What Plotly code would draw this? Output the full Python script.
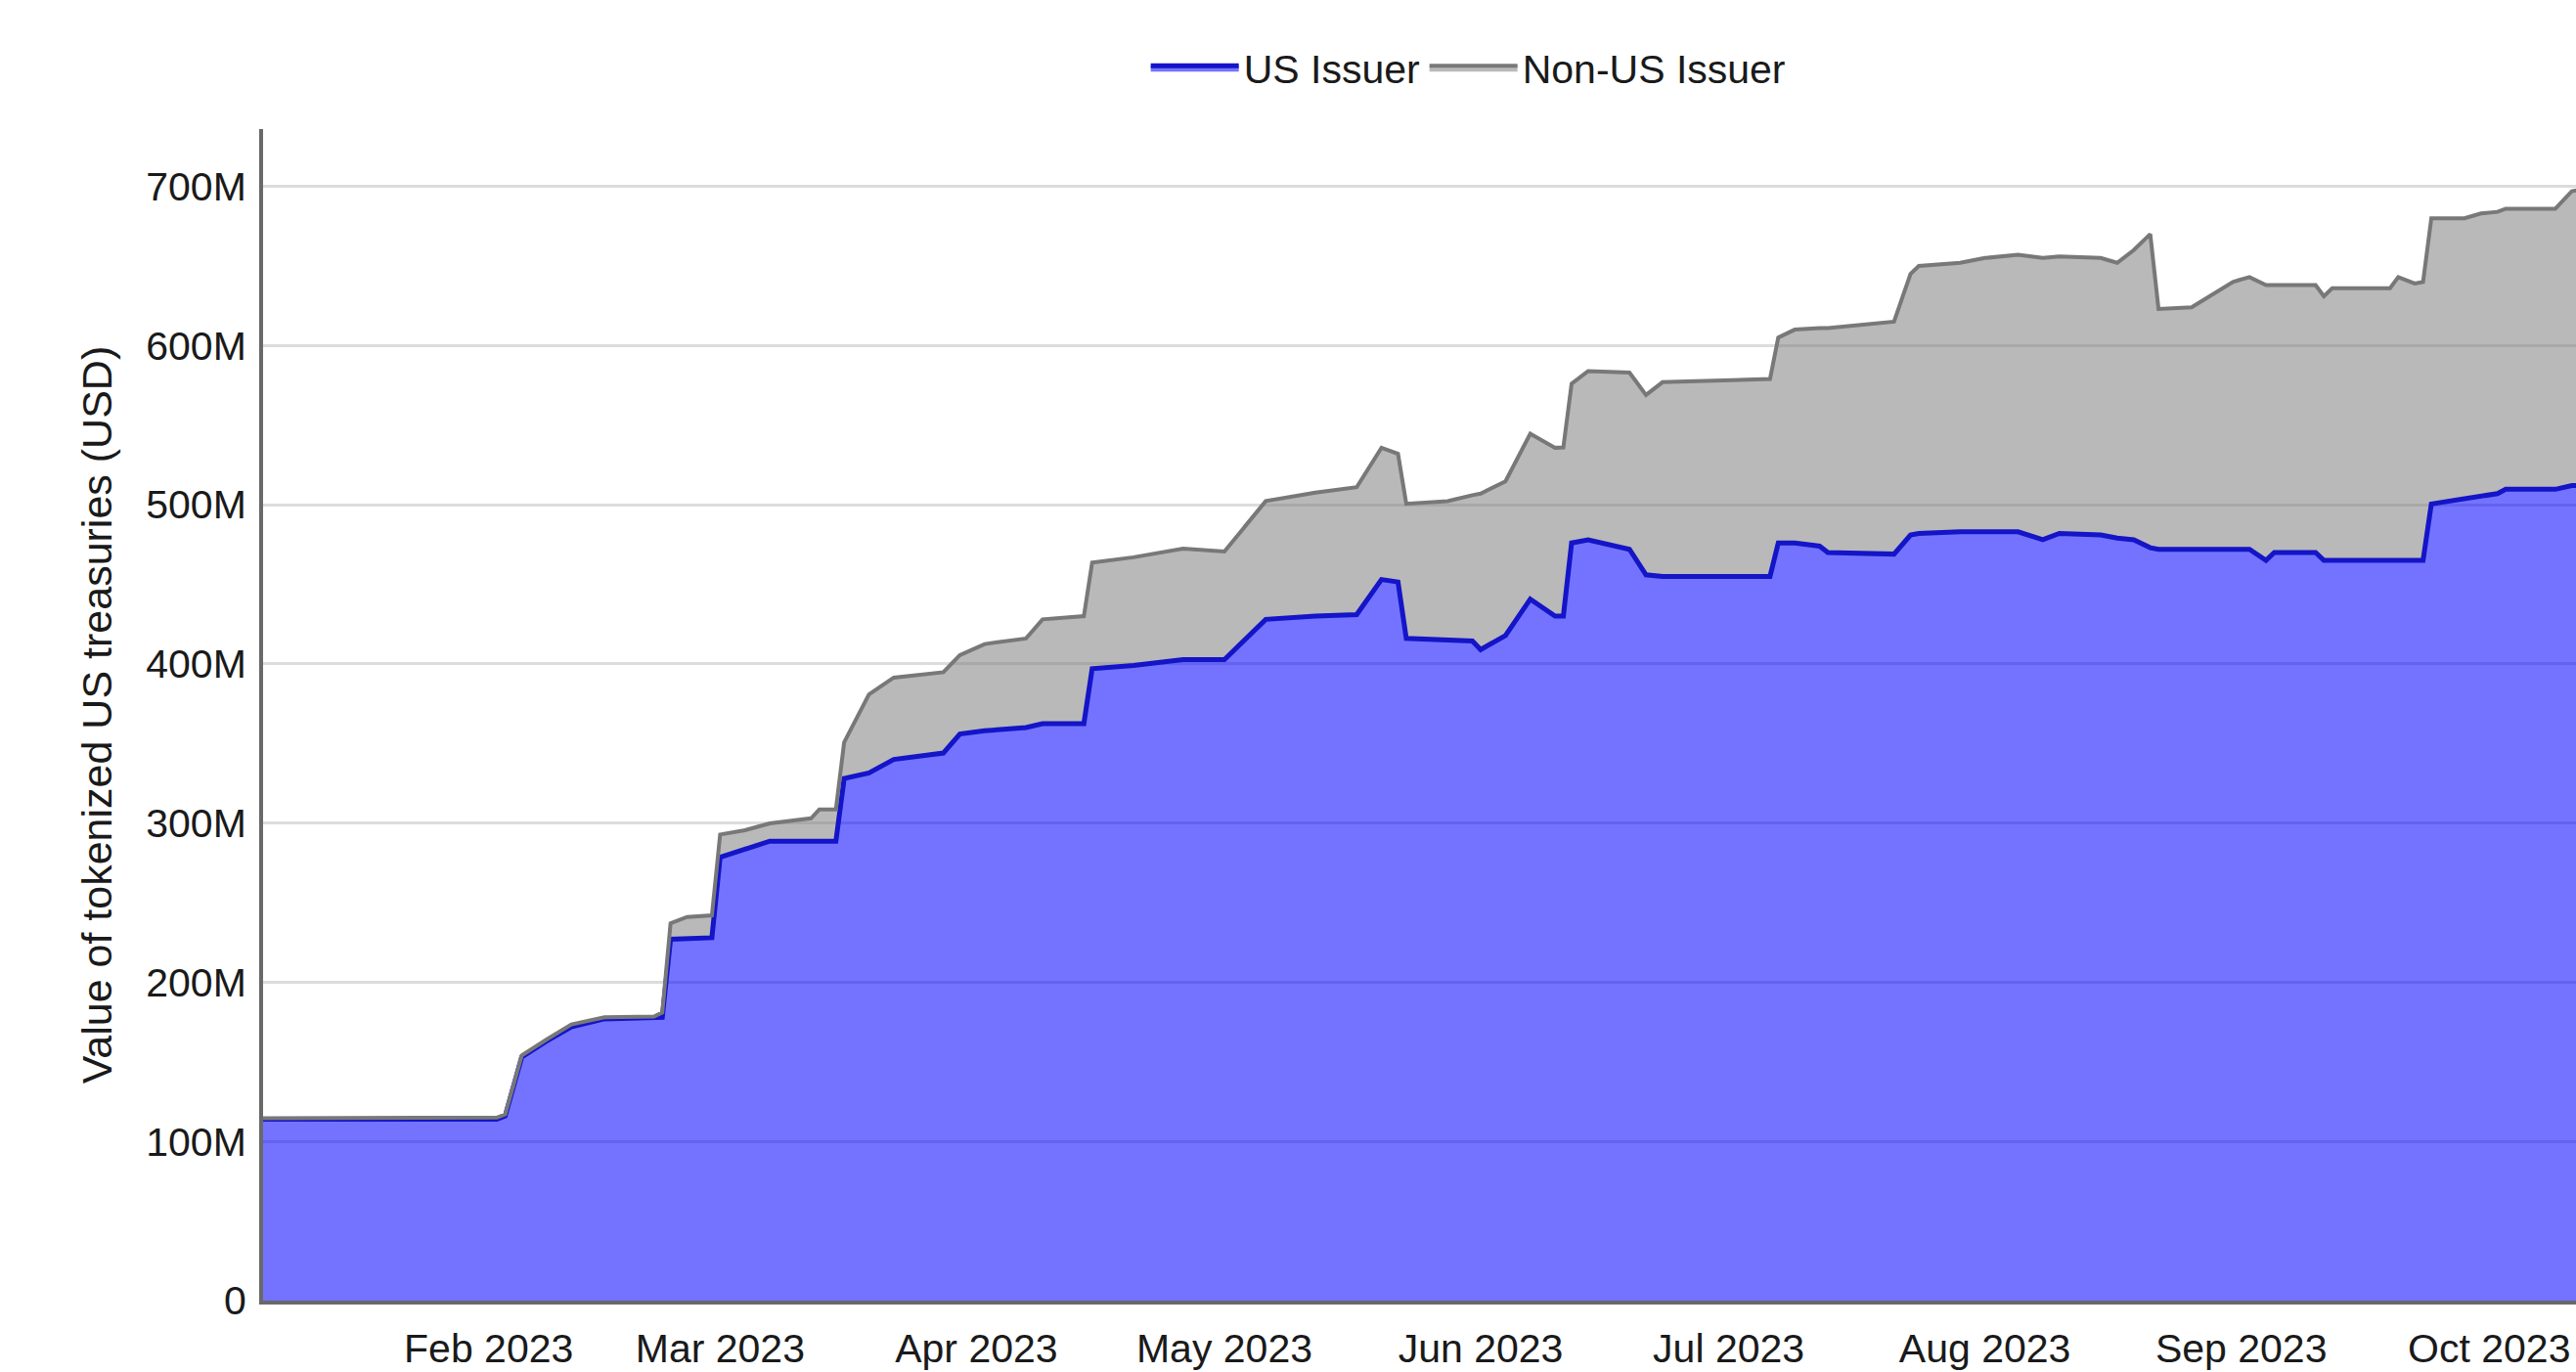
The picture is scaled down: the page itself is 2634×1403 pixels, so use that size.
import plotly.graph_objects as go

# ---- data (values in millions of USD) ----
dates = [
    "2023-01-04", "2023-02-02", "2023-02-03", "2023-02-05", "2023-02-08", "2023-02-11",
    "2023-02-15", "2023-02-21", "2023-02-22", "2023-02-23", "2023-02-25", "2023-02-28",
    "2023-03-01", "2023-03-04", "2023-03-07", "2023-03-12", "2023-03-13", "2023-03-15",
    "2023-03-16", "2023-03-19", "2023-03-22", "2023-03-28", "2023-03-30", "2023-04-02",
    "2023-04-07", "2023-04-09", "2023-04-14", "2023-04-15", "2023-04-20", "2023-04-26",
    "2023-05-01", "2023-05-06", "2023-05-12", "2023-05-17", "2023-05-20", "2023-05-22",
    "2023-05-23", "2023-05-28", "2023-05-31", "2023-06-01", "2023-06-04", "2023-06-07",
    "2023-06-10", "2023-06-11", "2023-06-12", "2023-06-14", "2023-06-19", "2023-06-21",
    "2023-06-23", "2023-07-06", "2023-07-07", "2023-07-09", "2023-07-12", "2023-07-13",
    "2023-07-21", "2023-07-23", "2023-07-24", "2023-07-29", "2023-08-01", "2023-08-05",
    "2023-08-08", "2023-08-10", "2023-08-15", "2023-08-17", "2023-08-19", "2023-08-21",
    "2023-08-22", "2023-08-26", "2023-08-31", "2023-09-02", "2023-09-04", "2023-09-05",
    "2023-09-10", "2023-09-11", "2023-09-12", "2023-09-19", "2023-09-20", "2023-09-22",
    "2023-09-23", "2023-09-24", "2023-09-28", "2023-09-30", "2023-10-02", "2023-10-03",
    "2023-10-09", "2023-10-11", "2023-10-12",
]

us_issuer_m = [
    114, 114, 116, 153, 163, 172,
    177, 177.5, 178, 227, 227.5, 228,
    278.6, 284, 288.6, 288.6, 288.6, 288.6,
    328, 331.5, 340, 344, 356, 358,
    360, 362.5, 362.5, 397, 399, 402.7,
    402.7, 428, 430, 431, 453, 451.5,
    416, 415, 414.4, 409, 417.8, 440.7,
    430, 430, 476, 478, 472, 456,
    455, 455, 476, 476, 474, 470,
    469, 481, 482, 483, 483, 483,
    478, 482, 481, 479, 478, 473,
    472, 472, 472, 472, 465, 470,
    470, 465, 465, 465, 465, 465,
    465, 500.5, 504, 505, 507, 509.7,
    509.7, 512, 512,
]

non_us_issuer_m = [
    0.5, 1, 1, 1, 1, 1.5,
    1, 1, 3, 10, 13.5, 14,
    14.2, 11.5, 11.2, 14.4, 20, 20,
    22.8, 49.3, 51.4, 50.8, 49.5, 54.5,
    56, 65.5, 67.5, 66.6, 68, 69.7,
    67.9, 74.3, 77.6, 80, 82.8, 80.5,
    84.6, 87.3, 91.6, 98, 96.9, 103.9,
    105.8, 106, 100, 106, 111, 113,
    122, 124, 129, 134, 137, 141,
    146, 164, 168, 169, 172, 174,
    177, 174, 174, 173, 182, 197,
    151, 152, 168, 171, 173, 168,
    168, 166, 171, 171, 178, 174,
    175, 179.5, 176, 178, 177, 176.3,
    176.3, 185, 186,
]

series_names = ["US Issuer", "Non-US Issuer"]
y_tick_values_m = [0, 100, 200, 300, 400, 500, 600, 700]

FONT = "Liberation Sans, Arial, sans-serif"

us_y = [v * 1e6 for v in us_issuer_m]
non_us_y = [v * 1e6 for v in non_us_issuer_m]

fig = go.Figure()
fig.add_trace(go.Scatter(
    x=dates, y=us_y, name=series_names[0], mode="lines",
    stackgroup="one",
    line=dict(color="rgb(20,20,200)", width=5),
    fillcolor="rgba(0,0,255,0.55)",
))
fig.add_trace(go.Scatter(
    x=dates, y=non_us_y, name=series_names[1], mode="lines",
    stackgroup="one",
    line=dict(color="rgb(120,120,120)", width=4),
    fillcolor="rgba(128,128,128,0.55)",
))

fig.update_layout(
    width=2634, height=1403,
    margin=dict(l=269, r=0, t=132, b=73, autoexpand=False),
    paper_bgcolor="white", plot_bgcolor="white",
    font=dict(family=FONT, size=41, color="#1a1a1a"),
    showlegend=True,
    legend=dict(
        orientation="h", x=0.521, xanchor="center", y=1.052, yanchor="middle",
        traceorder="normal", font=dict(size=41), itemwidth=90,
        bgcolor="rgba(0,0,0,0)",
    ),
    xaxis=dict(
        type="date",
        range=["2023-01-04 17:00", "2023-10-11 12:00"],
        tickformat="%b %Y", dtick="M1", tick0="2023-02-01",
        showgrid=False, showline=True, linecolor="rgb(105,105,105)", linewidth=4,
        ticks="", tickfont=dict(size=41), automargin=False,
        ticklabeloverflow="allow", ticklabelstandoff=10,
    ),
    yaxis=dict(
        range=[0, 736e6],
        tickvals=[v * 1e6 for v in y_tick_values_m],
        ticktext=[("%dM" % v) if v else "0" for v in y_tick_values_m],
        showgrid=True, gridcolor="rgb(220,220,220)", gridwidth=3,
        showline=True, linecolor="rgb(105,105,105)", linewidth=4,
        ticks="", tickfont=dict(size=41), automargin=False,
        ticklabelstandoff=5, zeroline=False,
        title=dict(text="Value of tokenized US treasuries (USD)",
                   font=dict(size=43), standoff=22),
    ),
)

fig.write_html(
    "out.html",
    config={"displayModeBar": False},
    post_script="document.body.style.margin='0';document.body.style.overflow='hidden';",
)
